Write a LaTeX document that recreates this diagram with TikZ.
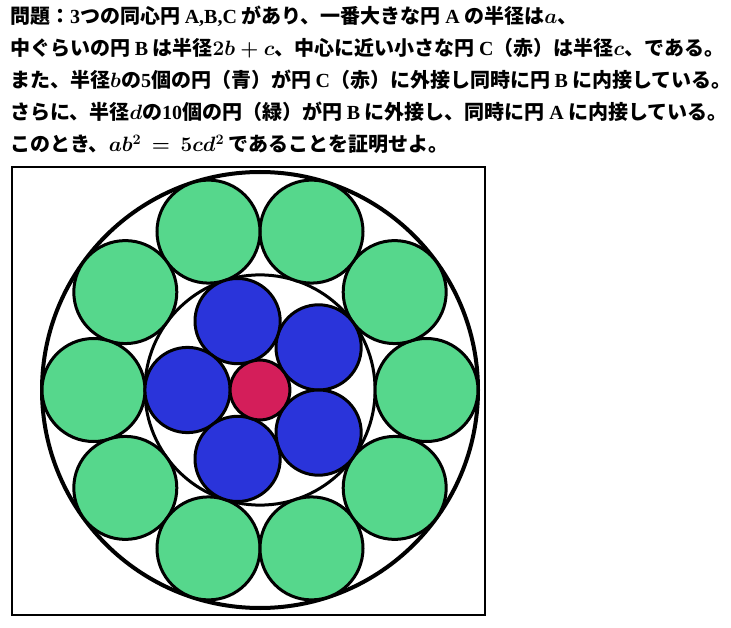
\documentclass[tikz,border=0pt]{standalone}
\usepackage{fontspec}
\setmainfont{Liberation Serif}
\newfontfamily\jp{Noto Sans CJK JP}
\newcommand\lat[1]{{\rmfamily\bfseries #1}}
\definecolor{greenC}{RGB}{86,215,140}
\definecolor{blueC}{RGB}{42,52,218}
\definecolor{redC}{RGB}{212,30,90}
\tikzset{
  textline/.style={anchor=base west, inner sep=0pt, font=\fontsize{20}{24}\selectfont\jp\bfseries\boldmath},
  disc/.style={draw=black, line width=3}
}
\begin{document}
\begin{tikzpicture}[x=1pt,y=-1pt]
		\useasboundingbox (0,0) rectangle (731,628);
		\node[textline] (line1) at (10,24) {問題：\lat{3}つの同心円 \lat{A,B,C} があり、一番大きな円 \lat{A} の半径は$a$、};
		\node[textline] (line2) at (10,56) {中ぐらいの円 \lat{B} は半径$2b+c$、中心に近い小さな円 \lat{C}（赤）は半径$c$、である。};
		\node[textline] (line3) at (10,88) {また、半径$b$の\lat{5}個の円（青）が円 \lat{C}（赤）に外接し同時に円 \lat{B} に内接している。};
		\node[textline] (line4) at (10,120) {さらに、半径$d$の\lat{10}個の円（緑）が円 \lat{B} に外接し、同時に円 \lat{A} に内接している。};
		\node[textline] (line5) at (10,152) {このとき、$ab^2\,=\,5cd^2$ であることを証明せよ。};
		\draw [line width=1.5] (12,167) rectangle (485,615);
		\coordinate (O) at (260,390);
		\draw [line width=4] (O) circle (218pt);
		\draw [line width=3] (O) circle (115.1pt);
		% circles of radius d
		\draw [disc, fill=greenC] (426.5,390) circle (51.5pt);
		\draw [disc, fill=greenC] (394.7,292.1) circle (51.5pt);
		\draw [disc, fill=greenC] (311.5,231.6) circle (51.5pt);
		\draw [disc, fill=greenC] (208.5,231.6) circle (51.5pt);
		\draw [disc, fill=greenC] (125.3,292.1) circle (51.5pt);
		\draw [disc, fill=greenC] (93.5,390) circle (51.5pt);
		\draw [disc, fill=greenC] (125.3,487.9) circle (51.5pt);
		\draw [disc, fill=greenC] (208.5,548.4) circle (51.5pt);
		\draw [disc, fill=greenC] (311.5,548.4) circle (51.5pt);
		\draw [disc, fill=greenC] (394.7,487.9) circle (51.5pt);
		% circles of radius b
		\draw [disc, fill=blueC] (318.6,347.4) circle (42.6pt);
		\draw [disc, fill=blueC] (237.6,321.1) circle (42.6pt);
		\draw [disc, fill=blueC] (187.5,390) circle (42.6pt);
		\draw [disc, fill=blueC] (237.6,458.9) circle (42.6pt);
		\draw [disc, fill=blueC] (318.6,432.6) circle (42.6pt);
		% circle C
		\draw [disc, fill=redC] (O) circle (29.9pt);
\end{tikzpicture}
\end{document}
